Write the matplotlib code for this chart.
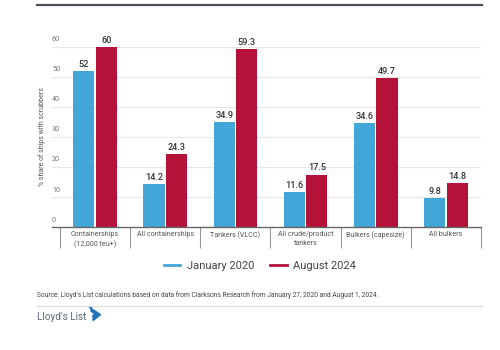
import matplotlib

matplotlib.use("Agg")

import matplotlib.pyplot as plt
from matplotlib.lines import Line2D
from matplotlib.patches import Polygon
from matplotlib.transforms import blended_transform_factory

plt.rcParams["font.family"] = ["Roboto", "DejaVu Sans"]

categories = [
    "Containerships\n(12,000 teu+)",
    "All containerships",
    "Tankers (VLCC)",
    "All crude/product\ntankers",
    "Bulkers (capesize)",
    "All bulkers",
]
jan_2020 = [52, 14.2, 34.9, 11.6, 34.6, 9.8]
aug_2024 = [60, 24.3, 59.3, 17.5, 49.7, 14.8]
y_ticks = [0, 10, 20, 30, 40, 50, 60]
series_names = ["January 2020", "August 2024"]

BLUE = "#43a6d9"
RED = "#b5123a"
GRID = "#e6e6e6"
TEXT = "#555555"

fig = plt.figure(figsize=(5, 3.5), dpi=100)
ax = fig.add_axes([0.104, 0.351, 0.858, 0.515])

x = list(range(len(categories)))
width = 0.3
gap = 0.01
bars_a = ax.bar([i - width / 2 - gap for i in x], jan_2020, width, color=BLUE, zorder=2)
bars_b = ax.bar([i + width / 2 + gap for i in x], aug_2024, width, color=RED, zorder=2)

for bars, vals in ((bars_a, jan_2020), (bars_b, aug_2024)):
    for b, v in zip(bars, vals):
        ax.annotate(f"{v:g}", (b.get_x() + b.get_width() / 2, v), xytext=(0, 1.5),
                    textcoords="offset points", ha="center", va="bottom",
                    fontsize=6.6, color="#333333", fontweight="medium", clip_on=False)

ax.set_xlim(-0.614, len(categories) - 0.5)
ax.set_ylim(0, 60)

# gridlines with labels sitting above them (left aligned)
trans = blended_transform_factory(ax.transAxes, ax.transData)
for t in y_ticks:
    if t > 0:
        ax.axhline(t, color=GRID, lw=0.8, zorder=1)
    ax.text(0.0, t + 1.2, str(t), transform=trans, ha="left", va="bottom",
            fontsize=5.2, color="#777777")
ax.set_yticks([])

for side in ("top", "right", "left"):
    ax.spines[side].set_visible(False)
ax.spines["bottom"].set_color("#666666")
ax.spines["bottom"].set_linewidth(1.0)

ax.set_xticks(x)
ax.set_xticklabels(categories, fontsize=5.1, color=TEXT, linespacing=1.4)
ax.tick_params(axis="x", which="major", length=0, pad=3)
ax.set_xticks([i - 0.5 for i in range(len(categories) + 1)], minor=True)
ax.tick_params(axis="x", which="minor", length=15, width=0.8, color="#999999")

fig.text(0.084, 0.609, "% share of ships with scrubbers", rotation=90, ha="center",
         va="center", fontsize=5, color=TEXT)

# top rule
fig.add_artist(Line2D([0.074, 0.964], [0.986, 0.986], color="#4a4e5a", lw=1.6))

# legend
handles = [Line2D([], [], color=c, lw=2) for c in (BLUE, RED)]
fig.legend(handles, series_names, loc="center", bbox_to_anchor=(0.52, 0.24), ncol=2,
           frameon=False, fontsize=8, handlelength=1.5, columnspacing=1.4,
           handletextpad=0.6, labelcolor="#444444")

fig.text(0.074, 0.157,
         "Source: Lloyd's List calculations based on data from Clarksons Research "
         "from January 27, 2020 and August 1, 2024.",
         fontsize=4.8, color="#444444", va="center")
fig.add_artist(Line2D([0.074, 0.964], [0.126, 0.126], color="#dddddd", lw=0.8))

# logo
fig.text(0.074, 0.094, "Lloyd's List", fontsize=7.2, color="#5b6b7c", va="center")
fig.add_artist(Polygon([[0.178, 0.123], [0.201, 0.101], [0.186, 0.084], [0.186, 0.099],
                        [0.191, 0.102], [0.182, 0.111], [0.182, 0.123]],
                       closed=True, color="#1f73b7", transform=fig.transFigure))

fig.savefig("out.png")
